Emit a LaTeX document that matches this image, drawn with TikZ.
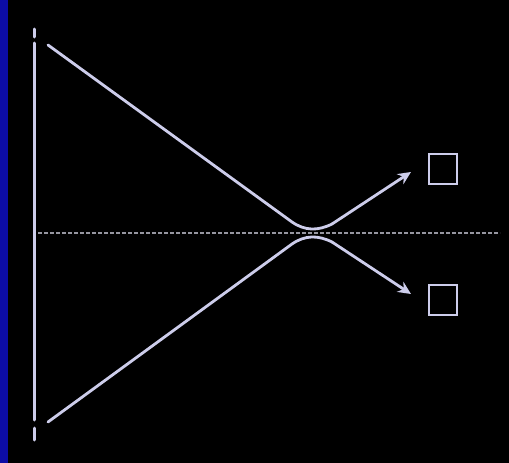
\documentclass[tikz,border=0pt]{standalone}
\usetikzlibrary{arrows.meta}
\definecolor{beam}{RGB}{205,205,235}
\definecolor{strip}{RGB}{12,12,165}
\definecolor{axis}{RGB}{150,150,160}
\tikzset{
  ray/.style={draw=beam, line width=2.8pt, line cap=round},
  arr/.style={ray, -{Stealth[length=13pt,width=12pt]}},
  det/.style={draw=beam, line width=2pt, minimum width=28pt, minimum height=30pt, inner sep=0pt},
  axisline/.style={draw=axis, line width=2pt, dash pattern=on 4pt off 2pt}
}
\begin{document}
\begin{tikzpicture}[x=1pt,y=-1pt]
  \fill[black] (0,0) rectangle (509,463);
  \useasboundingbox (0,0) rectangle (509,463);
  \fill[strip] (0,0) rectangle (8,463);
  % screen
  \coordinate (st) at (34,29);
  \coordinate (sb) at (34,440);
  \draw[ray, line width=3pt] (st) -- (34,37);
  \draw[ray, line width=3pt] (34,43) -- (34,420);
  \draw[ray, line width=3pt] (34,428) -- (sb);
  % axis
  \coordinate (al) at (38,233);
  \coordinate (ar) at (500,233);
  \draw[axisline] (al) -- (ar);
  % detectors
  \node[det] (d1) at (443,169) {};
  \node[det] (d2) at (443,300) {};
  % rays
  \coordinate (u0) at (48,45);
  \coordinate (l0) at (48,422);
  \coordinate (u1) at (292,222);
  \coordinate (l1) at (292,244);
  \coordinate (u2) at (332,224);
  \coordinate (l2) at (332,242);
  \coordinate (ut) at (411,172);
  \coordinate (lt) at (411,294);
  \draw[ray] (u0) -- (u1) .. controls (305,231) and (318,231) .. (u2);
  \draw[arr] (u2) -- (ut);
  \draw[ray] (l0) -- (l1) .. controls (305,235) and (318,235) .. (l2);
  \draw[arr] (l2) -- (lt);
\end{tikzpicture}
\end{document}
